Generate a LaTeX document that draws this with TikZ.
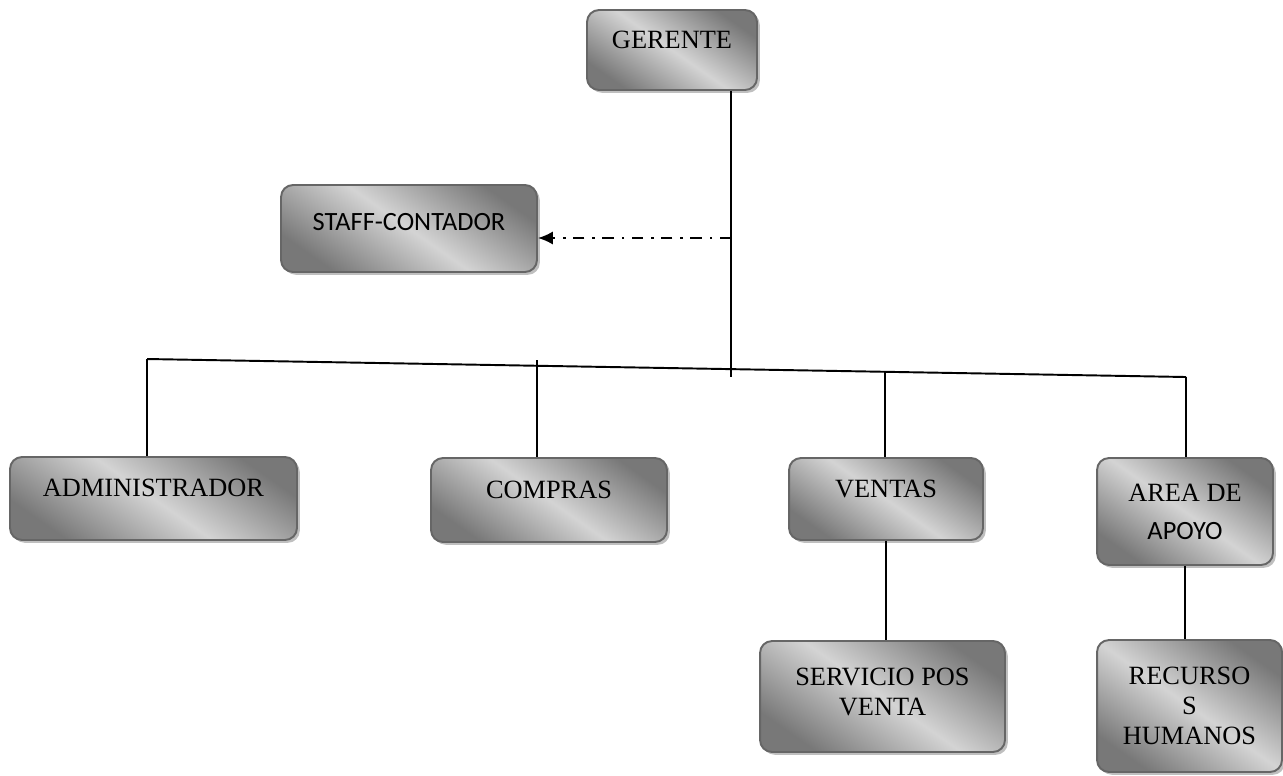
\documentclass[tikz,border=0pt]{standalone}
\usepackage{fontspec}
\setmainfont{Liberation Serif}
\newfontfamily\calib{Carlito}
\usepackage{tikz}
\usetikzlibrary{arrows.meta}
\usetikzlibrary{shadows}
\tikzstyle{cargo}=[draw=black!60, line width=1.1pt, rounded corners=0.24cm, top color=black!53, bottom color=black!53, middle color=black!17, shading angle=-35, drop shadow={shadow xshift=1.6pt, shadow yshift=-1.6pt, fill=black!25, opacity=1}, align=center, font=\fontsize{15}{17}\selectfont, inner sep=0pt]
\tikzstyle{linea}=[line width=1.1pt]

\begin{document}
\begin{tikzpicture}[x=0.02cm,y=-0.02cm,>={Latex[length=8.5pt,width=7.5pt]}]
    \useasboundingbox (0,0) rectangle (1283,775);
    \node [cargo, minimum width=3.4cm, minimum height=1.6cm, text depth=0.4cm] (gerente) at (672,50) {GERENTE};
    \node [cargo, minimum width=5.12cm, minimum height=1.74cm, text depth=0.26cm] (staff) at (409,228.5) {\calib STAFF-CONTADOR};
    \node [cargo, minimum width=5.74cm, minimum height=1.66cm, text depth=0.42cm] (admin) at (153.5,498.5) {ADMINISTRADOR};
    \node [cargo, minimum width=4.72cm, minimum height=1.68cm, text depth=0.4cm] (compras) at (549,500) {COMPRAS};
    \node [cargo, minimum width=3.88cm, minimum height=1.64cm, text depth=0.4cm] (ventas) at (886,499) {VENTAS};
    \node [cargo, minimum width=3.52cm, minimum height=2.14cm] (apoyo) at (1185,511.5) {AREA DE\\[4.5pt]{\calib APOYO}};
    \node [cargo, minimum width=4.9cm, minimum height=2.22cm, text depth=0.2cm] (servicio) at (882.5,696.5) {SERVICIO POS\\VENTA};
    \node [cargo, minimum width=3.7cm, minimum height=2.64cm] (rrhh) at (1189.5,706) {RECURSO\\S\\HUMANOS};

    \coordinate (tronco) at (731,377);
    \coordinate (izq) at (147,359);
    \coordinate (der) at (1186,377);
    \coordinate (staffpunto) at (731,238);
    \coordinate (compraspunto) at (537,360);
    \coordinate (ventaspunto) at (885,372);

    \draw [linea] (gerente.south -| tronco) -- (tronco);
    \draw [linea, ->, dash pattern=on 6.5pt off 4.2pt on 1.5pt off 4.5pt] (staffpunto) -- (staffpunto -| staff.east);
    \draw [linea] (izq) -- (der);
    \draw [linea] (izq) -- (izq |- admin.north);
    \draw [linea] (compraspunto) -- (compraspunto |- compras.north);
    \draw [linea] (ventaspunto) -- (ventaspunto |- ventas.north);
    \draw [linea] (der) -- (der |- apoyo.north);
    \draw [linea] (ventas.south) -- (ventas.south |- servicio.north);
    \draw [linea] (apoyo.south) -- (apoyo.south |- rrhh.north);
\end{tikzpicture}
\end{document}
